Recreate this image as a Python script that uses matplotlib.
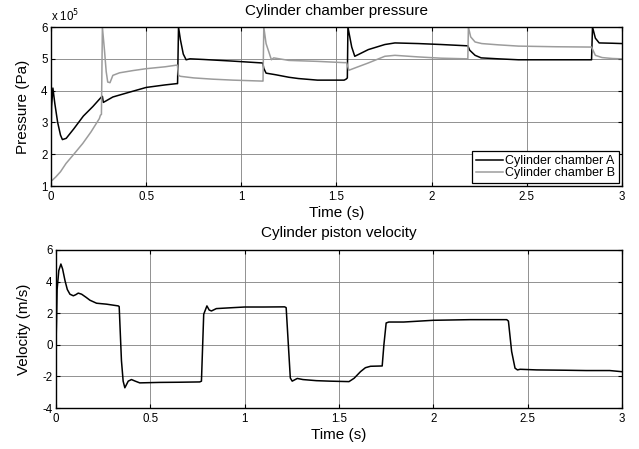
import matplotlib
matplotlib.use("Agg")
import matplotlib.pyplot as plt

plt.rcParams['font.family'] = ['Liberation Sans', 'DejaVu Sans']

# Pressure data (units of 1e5 Pa)
t_A = [0.0, 0.003, 0.01, 0.02, 0.035, 0.05, 0.06, 0.08, 0.12, 0.17, 0.22, 0.265, 0.27, 0.275, 0.29,
       0.325, 0.4, 0.5, 0.6, 0.66, 0.665, 0.67, 0.68, 0.695, 0.71, 0.73, 0.8, 0.95, 1.11, 1.113,
       1.118, 1.13, 1.18, 1.25, 1.3, 1.4, 1.54, 1.55, 1.557, 1.56, 1.58, 1.596, 1.62, 1.667, 1.754,
       1.807, 1.93, 2.05, 2.185, 2.19, 2.2, 2.228, 2.26, 2.35, 2.456, 2.6, 2.835, 2.84, 2.845,
       2.86, 2.88, 2.95, 3.0]
p_A = [2.3, 3.5, 4.08, 3.6, 3.0, 2.6, 2.46, 2.5, 2.8, 3.2, 3.5, 3.8, 3.82, 3.63, 3.68,
       3.8, 3.93, 4.1, 4.18, 4.22, 4.22, 6.0, 5.6, 5.15, 4.97, 5.0, 4.98, 4.93, 4.87, 4.87,
       4.7, 4.55, 4.5, 4.42, 4.38, 4.33, 4.33, 4.36, 4.4, 6.0, 5.37, 5.08, 5.15, 5.29, 5.45,
       5.5, 5.48, 5.45, 5.41, 5.41, 5.27, 5.11, 5.03, 5.0, 4.97, 4.97, 4.97, 4.97, 6.0,
       5.65, 5.5, 5.49, 5.48]

t_B = [0.0, 0.01, 0.026, 0.05, 0.079, 0.12, 0.167, 0.21, 0.254, 0.26, 0.265, 0.27, 0.281, 0.29,
       0.298, 0.31, 0.325, 0.36, 0.43, 0.5, 0.6, 0.658, 0.664, 0.67, 0.68, 0.75, 0.85, 0.956,
       1.11, 1.114, 1.118, 1.13, 1.158, 1.17, 1.25, 1.4, 1.54, 1.553, 1.565, 1.6, 1.667, 1.754,
       1.807, 1.93, 2.05, 2.184, 2.19, 2.193, 2.205, 2.228, 2.263, 2.35, 2.456, 2.65, 2.835,
       2.84, 2.86, 2.895, 2.95, 3.0]
p_B = [1.15, 1.2, 1.29, 1.45, 1.71, 2.0, 2.34, 2.7, 3.12, 3.23, 3.25, 6.0, 5.27, 4.6,
       4.27, 4.25, 4.48, 4.56, 4.63, 4.69, 4.75, 4.8, 4.8, 4.48, 4.45, 4.4, 4.36, 4.33,
       4.3, 4.3, 6.0, 5.48, 4.97, 5.03, 4.95, 4.92, 4.88, 4.88, 4.64, 4.72, 4.87, 5.08,
       5.11, 5.06, 5.02, 5.0, 5.0, 6.0, 5.69, 5.53, 5.48, 5.44, 5.4, 5.38, 5.37,
       5.37, 5.11, 5.04, 5.01, 5.0]

# Velocity data (m/s)
t_v = [0.0, 0.003, 0.006, 0.015, 0.026, 0.035, 0.048, 0.06, 0.074, 0.092, 0.105, 0.118, 0.136,
       0.16, 0.18, 0.215, 0.268, 0.33, 0.335, 0.347, 0.356, 0.365, 0.383, 0.4, 0.42, 0.444,
       0.55, 0.65, 0.762, 0.771, 0.783, 0.8, 0.812, 0.824, 0.85, 0.938, 1.0, 1.1, 1.212,
       1.22, 1.242, 1.252, 1.279, 1.309, 1.38, 1.45, 1.553, 1.58, 1.614, 1.64, 1.667,
       1.729, 1.738, 1.75, 1.764, 1.843, 2.0, 2.195, 2.389, 2.398, 2.415, 2.433, 2.446,
       2.46, 2.548, 2.7, 2.81, 2.935, 2.997]
v = [0.0, 1.5, 3.5, 4.7, 5.11, 4.8, 4.05, 3.5, 3.2, 3.1, 3.17, 3.27, 3.2,
     3.0, 2.82, 2.63, 2.57, 2.46, 2.42, -1.0, -2.3, -2.72, -2.3, -2.2, -2.3, -2.41,
     -2.38, -2.37, -2.35, -2.3, 1.93, 2.46, 2.2, 2.14, 2.29, 2.35, 2.39, 2.39, 2.4,
     2.35, -2.1, -2.3, -2.13, -2.2, -2.27, -2.3, -2.33, -2.12, -1.7, -1.45, -1.36,
     -1.34, 0.0, 1.38, 1.44, 1.44, 1.55, 1.59, 1.59, 1.5, -0.42, -1.48, -1.59,
     -1.55, -1.59, -1.61, -1.63, -1.63, -1.7]

x_ticks = [0, 0.5, 1, 1.5, 2, 2.5, 3]
x_ticklabels = ['0', '0.5', '1', '1.5', '2', '2.5', '3']
p_ticks = [1, 2, 3, 4, 5, 6]
v_ticks = [-4, -2, 0, 2, 4, 6]

fig = plt.figure(figsize=(6.39, 4.49), dpi=100)
ax1 = fig.add_axes([0.0798, 0.5857, 0.8936, 0.3541])
ax2 = fig.add_axes([0.0876, 0.0913, 0.8858, 0.3520])

for ax in (ax1, ax2):
    ax.set_xlim(0, 3)
    ax.set_xticks(x_ticks)
    ax.set_xticklabels(x_ticklabels)
    ax.grid(True, color='#808080', linewidth=0.6)
    ax.set_axisbelow(True)
    ax.tick_params(direction='in', top=True, right=True, labelsize=8.3, length=3, width=0.8)
    ax.tick_params(axis='x', pad=3.5)
    ax.tick_params(axis='y', pad=2.5)
    for s in ax.spines.values():
        s.set_linewidth(1.0)
        s.set_color('black')

ax1.plot(t_A, p_A, color='black', linewidth=1.1, label='Cylinder chamber A')
ax1.plot(t_B, p_B, color='#9c9c9c', linewidth=1.1, label='Cylinder chamber B')
ax1.set_ylim(1, 6)
ax1.set_yticks(p_ticks)
ax1.set_yticklabels([str(v_) for v_ in p_ticks])
ax1.set_title('Cylinder chamber pressure', fontsize=11, pad=9)
ax1.set_xlabel('Time (s)', fontsize=11, labelpad=2)
ax1.set_ylabel('Pressure (Pa)', fontsize=11, labelpad=8)
ax1.text(0.0, 1.02, r'x 10$^5$', transform=ax1.transAxes, fontsize=8.3, ha='left', va='bottom')
leg = ax1.legend(loc='lower right', fontsize=9, frameon=True, fancybox=False,
                 borderpad=0.3, labelspacing=0.0, handlelength=2.2, borderaxespad=0.25,
                 handletextpad=0.15)
leg.get_frame().set_edgecolor('black')
leg.get_frame().set_linewidth(0.9)
leg.get_frame().set_alpha(1)

ax2.plot(t_v, v, color='black', linewidth=1.1)
ax2.set_ylim(-4, 6)
ax2.set_yticks(v_ticks)
ax2.set_yticklabels([str(v_) for v_ in v_ticks])
ax2.set_title('Cylinder piston velocity', fontsize=11, pad=9)
ax2.set_xlabel('Time (s)', fontsize=11, labelpad=2)
ax2.set_ylabel('Velocity (m/s)', fontsize=11, labelpad=8)

fig.savefig('out.png', dpi=100)
